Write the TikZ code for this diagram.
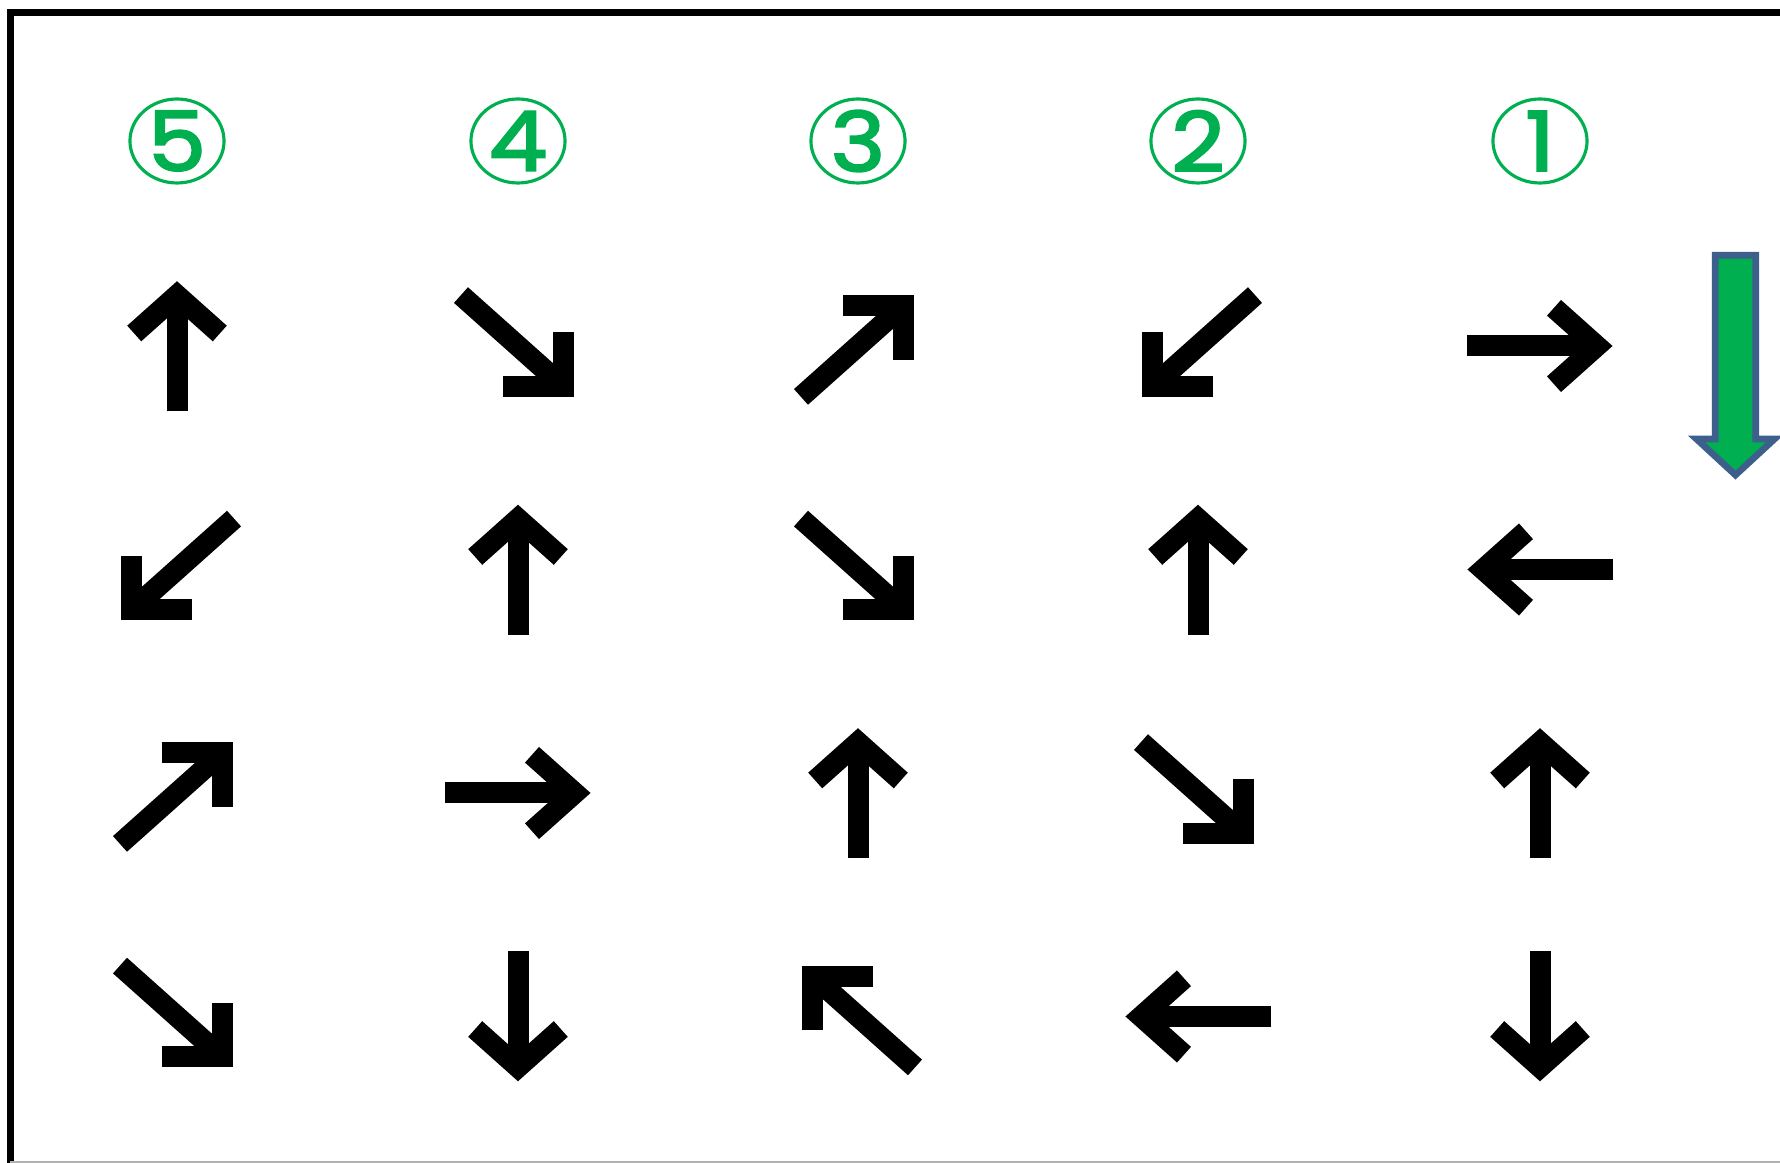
\documentclass[tikz,border=0pt]{standalone}
\usepackage{fontspec}
\newfontfamily\numfont{Poppins}[FakeBold=2.5]
\usetikzlibrary{positioning}
\definecolor{markgreen}{RGB}{0,176,80}
\definecolor{edgeblue}{RGB}{61,95,140}

\begin{document}
\begin{tikzpicture}[
  numlabel/.style={circle, draw=markgreen, line width=0.9pt, text=markgreen, minimum size=0.84cm, inner sep=0pt, xscale=1.12, transform shape, font=\numfont\fontsize{23.5}{24}\selectfont},
  arrowline/.style={line width=0.21cm, black},
  arrowat/.style={xscale=1.12, rotate=#1},
  pics/dirarrow/.style={code={
    \draw[arrowline] (-#1,0) -- ({#1-0.15},0);
    \draw[arrowline, line join=miter] ({#1-0.53},0.382) -- ({#1-0.148},0) -- ({#1-0.53},-0.382);
  }},
  pics/dirarrow/.default=0.655
]
  \useasboundingbox (0,0) rectangle (17.8,11.63);
  % frame
  \draw[line width=2pt] (0.105,0) -- (0.105,11.505) -- (17.8,11.505);
  \draw[gray!60, line width=0.6pt] (0.105,0.01) -- (17.8,0.01);

  % column numbers
  \node[numlabel] (num5) at (1.77,10.22) {5};
  \node[numlabel] (num4) at (5.18,10.22) {4};
  \node[numlabel] (num3) at (8.58,10.22) {3};
  \node[numlabel] (num2) at (11.98,10.22) {2};
  \node[numlabel] (num1) at (15.40,10.22) {1};

  % column 5
  \pic[arrowat=90] (a51) at (1.77,8.17) {dirarrow};
  \pic[arrowat=225] (a52) at (1.77,5.935) {dirarrow=0.72};
  \pic[arrowat=45] (a53) at (1.77,3.70) {dirarrow=0.72};
  \pic[arrowat=-45] (a54) at (1.77,1.465) {dirarrow=0.72};
  % column 4
  \pic[arrowat=-45] (a41) at (5.18,8.17) {dirarrow=0.72};
  \pic[arrowat=90] (a42) at (5.18,5.935) {dirarrow};
  \pic[arrowat=0] (a43) at (5.18,3.70) {dirarrow};
  \pic[arrowat=-90] (a44) at (5.18,1.465) {dirarrow};
  % column 3
  \pic[arrowat=45] (a31) at (8.58,8.17) {dirarrow=0.72};
  \pic[arrowat=-45] (a32) at (8.58,5.935) {dirarrow=0.72};
  \pic[arrowat=90] (a33) at (8.58,3.70) {dirarrow};
  \pic[arrowat=135] (a34) at (8.58,1.465) {dirarrow=0.72};
  % column 2
  \pic[arrowat=225] (a21) at (11.98,8.17) {dirarrow=0.72};
  \pic[arrowat=90] (a22) at (11.98,5.935) {dirarrow};
  \pic[arrowat=-45] (a23) at (11.98,3.70) {dirarrow=0.72};
  \pic[arrowat=180] (a24) at (11.98,1.465) {dirarrow};
  % column 1
  \pic[arrowat=0] (a11) at (15.40,8.17) {dirarrow};
  \pic[arrowat=180] (a12) at (15.40,5.935) {dirarrow};
  \pic[arrowat=90] (a13) at (15.40,3.70) {dirarrow};
  \pic[arrowat=-90] (a14) at (15.40,1.465) {dirarrow};

  % reading direction
  \draw[edgeblue, fill=markgreen, line width=1.9pt, line join=miter]
    (17.153,9.077) -- (17.557,9.077) -- (17.557,7.24) -- (17.745,7.24)
    -- (17.355,6.88) -- (16.965,7.24) -- (17.153,7.24) -- cycle;
\end{tikzpicture}
\end{document}
